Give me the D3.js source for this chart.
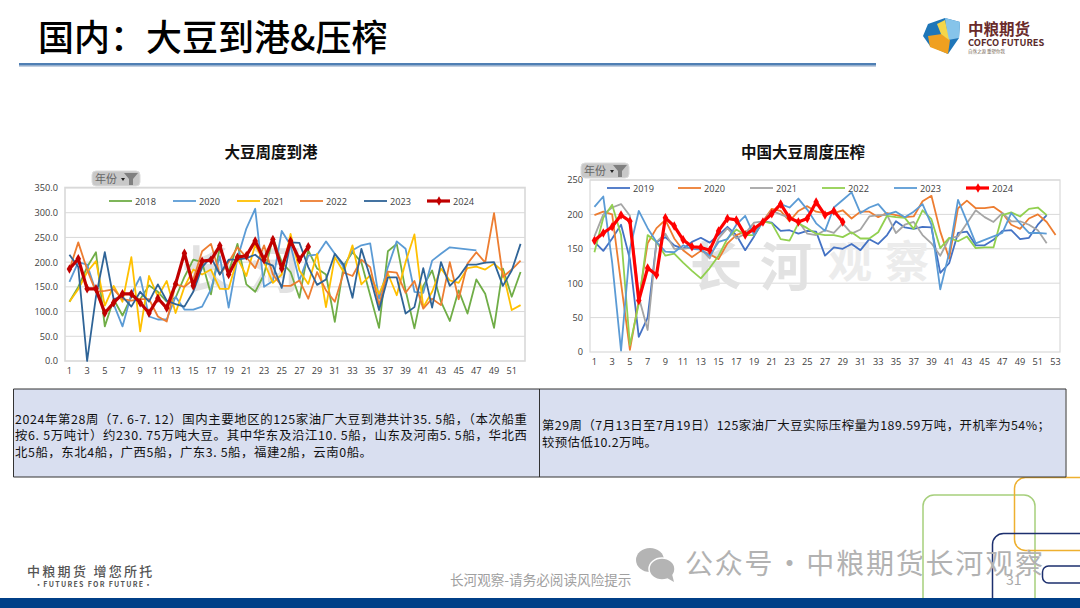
<!DOCTYPE html>
<html>
<head>
<meta charset="utf-8">
<script src="https://cdn.jsdelivr.net/npm/d3@7"></script>
<style>
html, body { margin: 0; padding: 0; background: #fff; }
svg { display: block; }
text { font-family: "Noto Sans CJK SC", "Noto Sans", sans-serif; }
.axis text { font-family: "Open Sans", "Noto Sans", sans-serif; font-size: 9.2px; fill: #404040; }
.axis path { display: none; }
.legend text { font-family: "Open Sans", "Noto Sans", sans-serif; font-size: 9.2px; fill: #404040; }
</style>
</head>
<body>
<script>
var arrivals = {
    2018: [120,150,190,220,70,125,92,130,125,153,140,120,128,170,205,200,135,230,180,237,155,140,175,250,200,180,128,224,187,175,79,193,220,200,133,67,222,237,143,66,152,183,120,81,143,96,165,136,67,187,130,180],
    2020: [160,200,195,140,100,115,70,135,170,90,84,84,130,104,104,110,145,212,108,208,268,308,150,162,263,234,163,213,215,242,217,190,224,234,238,126,190,242,227,140,138,203,217,230,228,226,224],
    2021: [120,145,180,202,112,152,120,210,60,172,130,162,97,150,185,175,185,146,146,208,172,235,200,158,175,257,183,156,217,109,210,180,234,155,173,136,177,133,200,256,109,140,187,163,158,188,191,185,197,181,103,113],
    2022: [185,240,185,140,142,145,125,122,125,125,90,80,155,150,165,222,237,175,200,230,210,188,234,175,152,152,163,126,180,143,120,179,172,205,190,113,181,179,138,162,106,126,113,200,125,197,220,199,299,170,185,203],
    2023: [215,190,0,130,220,125,130,110,140,120,155,122,115,110,140,190,210,175,205,205,208,215,200,193,148,240,239,190,154,165,217,195,128,227,170,103,169,169,96,109,188,108,200,152,170,195,195,199,200,152,183,237],
    2024: [186,207,146,146,97,118,136,136,118,97,127,107,156,218,152,202,204,233,175,210,213,243,205,246,187,243,205,231]
};

var crush = {
    2019: [160,147,165,185,135,22,50,160,167,155,150,160,166,159,170,182,170,148,168,190,188,176,177,172,176,175,140,152,150,157,148,164,157,170,190,181,179,182,181,115,129,173,175,155,155,163,176,177,164,166,185,199],
    2020: [199,204,200,100,3,75,158,180,192,165,148,138,147,142,135,158,170,175,178,190,208,205,190,205,212,204,202,202,206,194,204,204,196,202,199,196,197,219,227,175,136,209,220,209,209,211,202,185,179,194,200,189,170],
    2021: [168,200,210,215,198,80,32,160,172,150,150,152,150,136,165,180,165,172,188,190,205,200,195,190,172,170,177,173,187,172,178,197,199,199,173,185,189,170,158,140,165,168,187,206,196,189,202,190,190,185,177,158],
    2022: [145,195,214,170,10,70,170,160,140,143,130,118,107,122,140,165,178,170,170,190,187,164,162,187,180,172,170,170,167,174,165,165,174,198,196,195,179,206,193,151,166,161,168,151,152,152,199,203,197,208,210,199],
    2023: [211,226,130,2,150,205,180,160,146,145,155,150,149,140,160,164,185,198,170,190,200,215,210,223,207,187,176,210,221,232,202,210,215,200,204,196,204,215,185,91,144,221,190,158,163,168,173,202,187,173,173,172],
    2024: [162,173,182,199,190,75,122,112,195,183,163,153,152,148,176,194,192,170,179,189,201,215,195,189,194,218,199,205,189]
};

var svg = d3.select("body").append("svg")
    .attr("width", 1080)
    .attr("height", 608);

// slide furniture behind the charts
var deco = svg.append("g").attr("fill", "none").attr("stroke-width", 1.5);
deco.append("rect").attr("x", 923).attr("y", 495).attr("width", 112).attr("height", 130).attr("rx", 11).attr("stroke", "#a6cf7c");
deco.append("rect").attr("x", 1014.5).attr("y", 477.5).attr("width", 120).attr("height", 73).attr("rx", 11).attr("stroke", "#eeb02f");
deco.append("rect").attr("x", 992.5).attr("y", 533.5).attr("width", 140).attr("height", 90).attr("rx", 11).attr("stroke", "#1c2f6e");
deco.append("rect").attr("x", 1042.5).attr("y", 566).attr("width", 60).attr("height", 17).attr("rx", 6).attr("stroke", "#1c2f6e");

svg.append("text")
    .attr("x", 38).attr("y", 51)
    .attr("font-size", 36).attr("font-weight", 500).attr("fill", "#000")
    .text("国内：大豆到港&压榨");

svg.append("rect").attr("x", 19).attr("y", 65).attr("width", 857).attr("height", 2).attr("fill", "#c3cfe0");
svg.append("rect").attr("x", 19).attr("y", 63).attr("width", 857).attr("height", 2.4).attr("fill", "#4f7fb4");

// logo
var logo = svg.append("g");
logo.append("path").attr("d", "M928 24 L945 18 L960 22 L959 38 L948 54 L930 46 L923 36 Z").attr("fill", "#1f76b8");
logo.append("path").attr("d", "M945 18 L960 22 L959 38 L948 40 Z").attr("fill", "#86c4ea");
logo.append("path").attr("d", "M928 36 L942 34 L950 40 L948 54 L930 47 Z").attr("fill", "#f0a020");
logo.append("path").attr("d", "M937 24 L945 20 L949 40 L941 34 Z").attr("fill", "#f4d64a");
logo.append("text").attr("x", 968).attr("y", 35).attr("font-size", 15.5).attr("font-weight", 700).attr("fill", "#6a2b2b").text("中粮期货");
logo.append("text").attr("x", 968).attr("y", 46).attr("font-size", 9.3).attr("font-weight", 700).attr("font-family", "Liberation Sans").attr("fill", "#5a2a2a").text("COFCO FUTURES");
logo.append("text").attr("x", 968).attr("y", 53).attr("font-size", 4.5).attr("fill", "#7a6a5a").text("自然之源  重塑你我");

function drawChart(opts) {
    var chart = svg.append("g");

    chart.append("rect")
        .attr("x", opts.left).attr("y", opts.top)
        .attr("width", opts.right - opts.left).attr("height", opts.bottom - opts.top)
        .attr("fill", "#fff").attr("stroke", "#d9d9d9").attr("stroke-width", opts.frame);

    var x = d3.scaleBand()
        .domain(d3.range(1, opts.weeks + 1))
        .range([opts.left, opts.right]);

    var y = d3.scaleLinear()
        .domain([0, opts.max])
        .range([opts.bottom, opts.yTop]);

    chart.selectAll(".grid")
        .data(y.ticks(opts.tickCount).filter(function (d) { return d > 0; }))
        .enter().append("line")
        .attr("class", "grid")
        .attr("x1", opts.left).attr("x2", opts.right)
        .attr("y1", function (d) { return y(d); })
        .attr("y2", function (d) { return y(d); })
        .attr("stroke", "#d9d9d9").attr("stroke-width", 1);

    // watermark sits under the lines
    opts.water.forEach(function (w) {
        chart.append("text")
            .attr("x", w[0]).attr("y", w[1])
            .attr("font-size", w[2]).attr("font-weight", 700)
            .attr("fill", w[4])
            .text(w[3]);
    });

    var yAxis = d3.axisLeft(y).ticks(opts.tickCount).tickSize(0).tickPadding(opts.pad).tickFormat(opts.format);
    chart.append("g").attr("class", "axis")
        .attr("transform", "translate(" + opts.left + ",0)")
        .call(yAxis);

    var xAxis = d3.axisBottom(x)
        .tickValues(d3.range(1, opts.weeks + 1, 2))
        .tickSize(0).tickPadding(6);
    chart.append("g").attr("class", "axis")
        .attr("transform", "translate(0," + opts.bottom + ")")
        .call(xAxis);

    var line = d3.line()
        .x(function (d, i) { return x(i + 1) + x.bandwidth() / 2; })
        .y(function (d) { return y(d); });

    opts.series.forEach(function (s) {
        var values = opts.data[s.year];
        chart.append("path")
            .attr("d", line(values))
            .attr("fill", "none")
            .attr("stroke", s.color)
            .attr("stroke-width", s.width)
            .attr("stroke-linejoin", "round");

        if (s.marker) {
            chart.selectAll(".dot" + s.year)
                .data(values)
                .enter().append("path")
                .attr("d", d3.symbol().type(d3.symbolDiamond).size(26))
                .attr("transform", function (d, i) {
                    return "translate(" + (x(i + 1) + x.bandwidth() / 2) + "," + y(d) + ")";
                })
                .attr("fill", s.color);
        }

        var lg = chart.append("g").attr("class", "legend");
        lg.append("line")
            .attr("x1", s.lx).attr("x2", s.lx + 23)
            .attr("y1", opts.legendY).attr("y2", opts.legendY)
            .attr("stroke", s.color).attr("stroke-width", s.width);
        if (s.marker) {
            lg.append("path")
                .attr("d", d3.symbol().type(d3.symbolDiamond).size(26))
                .attr("transform", "translate(" + (s.lx + 12) + "," + opts.legendY + ")")
                .attr("fill", s.color);
        }
        lg.append("text")
            .attr("x", s.lx + 26).attr("y", opts.legendY + 3.5)
            .text(s.year);
    });

    chart.append("text")
        .attr("x", opts.titleX).attr("y", 157.5)
        .attr("text-anchor", "middle")
        .attr("font-size", 15.5).attr("font-weight", 700).attr("fill", "#111")
        .text(opts.title);

    // pivot field button
    var btn = chart.append("g").attr("transform", "translate(" + opts.btnX + "," + opts.btnY + ")");
    btn.append("rect").attr("width", 48).attr("height", 15).attr("rx", 4).attr("fill", "#c8c8c8").attr("stroke", "#dcdcdc");
    btn.append("text").attr("x", 3).attr("y", 11.5).attr("font-size", 11).attr("fill", "#666").text("年份");
    btn.append("path").attr("d", "M29 7 L33 7 L31 10 Z").attr("fill", "#222");
    btn.append("path").attr("d", "M32 2 L46 2 L41 8 L41 14 L37 14 L37 8 Z").attr("fill", "#808080");
}

drawChart({
    title: "大豆周度到港", titleX: 271,
    left: 65, right: 525, top: 187.5, bottom: 361, yTop: 188,
    weeks: 52, max: 350, tickCount: 7, pad: 7, frame: 1.6,
    format: d3.format(".1f"),
    data: arrivals, legendY: 201, btnX: 92, btnY: 171,
    water: [[182, 288, 50, "长", "#e2e2e2"], [250, 288, 50, "河", "#e2e2e2"]],
    series: [
        { year: 2018, color: "#70ad47", width: 1.8, lx: 109 },
        { year: 2020, color: "#5b9bd5", width: 1.8, lx: 173 },
        { year: 2021, color: "#ffc000", width: 1.8, lx: 237 },
        { year: 2022, color: "#ed7d31", width: 1.8, lx: 300 },
        { year: 2023, color: "#2f6497", width: 1.8, lx: 364 },
        { year: 2024, color: "#c00000", width: 3.2, lx: 427, marker: true }
    ]
});

drawChart({
    title: "中国大豆周度压榨", titleX: 803,
    left: 590, right: 1060, top: 180, bottom: 352, yTop: 180,
    weeks: 53, max: 250, tickCount: 5, pad: 7, frame: 1.2,
    format: d3.format("d"),
    data: crush, legendY: 188, btnX: 581, btnY: 163,
    water: [[690, 286, 52, "长", "#e2e2e2"], [760, 286, 52, "河", "#e2e2e2"], [828, 278, 44, "观", "#ececec"], [885, 278, 44, "察", "#ececec"]],
    series: [
        { year: 2019, color: "#4472c4", width: 1.8, lx: 607 },
        { year: 2020, color: "#ed7d31", width: 1.8, lx: 678 },
        { year: 2021, color: "#a5a5a5", width: 1.8, lx: 750 },
        { year: 2022, color: "#92d050", width: 1.8, lx: 822 },
        { year: 2023, color: "#5b9bd5", width: 1.8, lx: 894 },
        { year: 2024, color: "#ff0000", width: 3.2, lx: 966, marker: true }
    ]
});

// notes table
var table = svg.append("g");
table.append("rect").attr("x", 13.5).attr("y", 389).attr("width", 1052).attr("height", 88).attr("fill", "#d9dff0");
table.append("path")
    .attr("d", "M13.5 389 H1066 V477 H13.5 Z M539.5 389 V477")
    .attr("fill", "none").attr("stroke", "#333").attr("stroke-width", 1);

var notes = [
    { x: 15, y: 423.5, w: 512, t: "2024年第28周（7. 6-7. 12）国内主要地区的125家油厂大豆到港共计35. 5船，（本次船重" },
    { x: 15, y: 440, w: 512, t: "按6. 5万吨计）约230. 75万吨大豆。其中华东及沿江10. 5船，山东及河南5. 5船，华北西" },
    { x: 15, y: 456.5, w: 357, t: "北5船，东北4船，广西5船，广东3. 5船，福建2船，云南0船。" },
    { x: 542, y: 430, w: 508, t: "第29周（7月13日至7月19日）125家油厂大豆实际压榨量为189.59万吨，开机率为54%；" },
    { x: 542, y: 447, w: 115, t: "较预估低10.2万吨。" }
];
table.selectAll(".note")
    .data(notes)
    .enter().append("text")
    .attr("class", "note")
    .attr("x", function (d) { return d.x; })
    .attr("y", function (d) { return d.y; })
    .attr("textLength", function (d) { return d.w; })
    .attr("lengthAdjust", "spacing")
    .attr("font-size", 12.4).attr("fill", "#111")
    .text(function (d) { return d.t; });

// footer
svg.append("rect").attr("x", 0).attr("y", 598).attr("width", 1080).attr("height", 10).attr("fill", "#003f87");
svg.append("text").attr("x", 27).attr("y", 576).attr("font-size", 13).attr("font-weight", 500).attr("fill", "#555").attr("letter-spacing", 2.3).text("中粮期货  增您所托");
svg.append("text").attr("x", 35).attr("y", 587).attr("font-size", 7).attr("font-weight", 700).attr("fill", "#555").attr("letter-spacing", 1.3).text("·FUTURES FOR FUTURE·");
svg.append("text").attr("x", 450).attr("y", 585).attr("font-size", 13.6).attr("fill", "#a0a0a0").text("长河观察-请务必阅读风险提示");
svg.append("text").attr("x", 1006).attr("y", 585).attr("font-size", 14).attr("fill", "#a8a8a8").text("31");

// wechat mark
var wx = svg.append("g").attr("fill", "#b4b4b4");
wx.append("ellipse").attr("cx", 650).attr("cy", 560).attr("rx", 14).attr("ry", 12);
wx.append("ellipse").attr("cx", 662).attr("cy", 569).attr("rx", 13).attr("ry", 11).attr("stroke", "#fff").attr("stroke-width", 1.5);
wx.append("path").attr("d", "M667 578 L674 582 L672 574 Z");
svg.append("text").attr("x", 685).attr("y", 574).attr("font-size", 28).attr("letter-spacing", 1.8).attr("word-spacing", -7).attr("fill", "#b2b2b2").text("公众号 · 中粮期货长河观察");
</script>
</body>
</html>
